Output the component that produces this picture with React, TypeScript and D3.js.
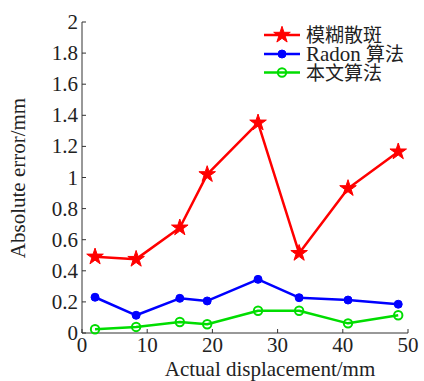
import React from "react";
import * as d3 from "d3";

const xValues = [2, 8.3, 15, 19.2, 27, 33.3, 40.8, 48.5];
const blurSpeckle = [0.49, 0.475, 0.677, 1.02, 1.352, 0.513, 0.93, 1.166];
const radon = [0.23, 0.114, 0.223, 0.206, 0.345, 0.227, 0.212, 0.185];
const ours = [0.024, 0.039, 0.071, 0.056, 0.143, 0.143, 0.062, 0.114];
const seriesNames: [string, string][] = [["", "模糊散斑"], ["Radon ", "算法"], ["", "本文算法"]];
const xTicks = [0, 10, 20, 30, 40, 50];
const yTicks = [0, 0.2, 0.4, 0.6, 0.8, 1, 1.2, 1.4, 1.6, 1.8, 2];

const W = 424, H = 381;
const font = "'Liberation Serif', 'Times New Roman', serif";
const cjkFont = "'Noto Sans CJK SC', sans-serif";

export default function App() {
  const x = d3.scaleLinear().domain([0, 50]).range([82, 408]);
  const y = d3.scaleLinear().domain([0, 2]).range([333, 22]);
  const mk = (vals: number[]) =>
    d3.line<[number, number]>().x(d => x(d[0])).y(d => y(d[1]))(xValues.map((v, i) => [v, vals[i]]))!;
  const star = d3.symbol().type(d3.symbolStar).size(85)()!;
  const axisColor = "#333";
  const series = [
    { name: seriesNames[0], vals: blurSpeckle, color: "#ff0000", marker: "star" },
    { name: seriesNames[1], vals: radon, color: "#0000ff", marker: "dot" },
    { name: seriesNames[2], vals: ours, color: "#00dd00", marker: "ring" },
  ];
  const marker = (m: string, color: string, cx: number, cy: number, key: any) => {
    if (m === "star") return <path key={key} d={star} transform={`translate(${cx},${cy})`} fill={color} stroke={color} strokeWidth={1} />;
    if (m === "dot") return <circle key={key} cx={cx} cy={cy} r={4} fill={color} stroke={color} strokeWidth={1} />;
    return <circle key={key} cx={cx} cy={cy} r={4.2} fill="none" stroke={color} strokeWidth={2} />;
  };
  const legendY = [35, 54, 72.5];
  return (
    <svg width={W} height={H} style={{ position: "absolute", left: 0, top: 0, background: "#fff" }} fontFamily={font}>
      <line x1={x(0)} x2={x(0)} y1={y(0)} y2={y(2)} stroke={axisColor} strokeWidth={1} />
      <line x1={x(0)} x2={x(50)} y1={y(0)} y2={y(0)} stroke={axisColor} strokeWidth={1} />
      {yTicks.map(t => (
        <g key={"y" + t}>
          <line x1={x(0)} x2={x(0) + 4} y1={y(t)} y2={y(t)} stroke={axisColor} />
          <text x={78} y={y(t) + 7} textAnchor="end" fontSize={21} fill="#222">{d3.format("~g")(t)}</text>
        </g>
      ))}
      {xTicks.map(t => (
        <g key={"x" + t}>
          <line x1={x(t)} x2={x(t)} y1={y(0)} y2={y(0) - 4} stroke={axisColor} />
          <text x={x(t)} y={352} textAnchor="middle" fontSize={21} fill="#222">{t}</text>
        </g>
      ))}
      <text x={270} y={376} textAnchor="middle" fontSize={21} fill="#222">Actual displacement/mm</text>
      <text transform={`translate(25,178) rotate(-90)`} textAnchor="middle" fontSize={21} fill="#222">Absolute error/mm</text>
      {series.map((s, si) => (
        <g key={"s" + si}>
          <path d={mk(s.vals)} fill="none" stroke={s.color} strokeWidth={2.5} strokeLinejoin="round" />
          {s.vals.map((v, i) => marker(s.marker, s.color, x(xValues[i]), y(v), i))}
        </g>
      ))}
      {series.map((s, si) => (
        <g key={"l" + si}>
          <line x1={264} x2={300} y1={legendY[si]} y2={legendY[si]} stroke={s.color} strokeWidth={2.5} />
          {marker(s.marker, s.color, 282, legendY[si], "m")}
          <text x={306} y={legendY[si] + 7} fontSize={19} fill="#222">
            {s.name[0] && <tspan fontFamily={font} fontSize={21}>{s.name[0]}</tspan>}
            <tspan fontFamily={cjkFont}>{s.name[1]}</tspan>
          </text>
        </g>
      ))}
    </svg>
  );
}
